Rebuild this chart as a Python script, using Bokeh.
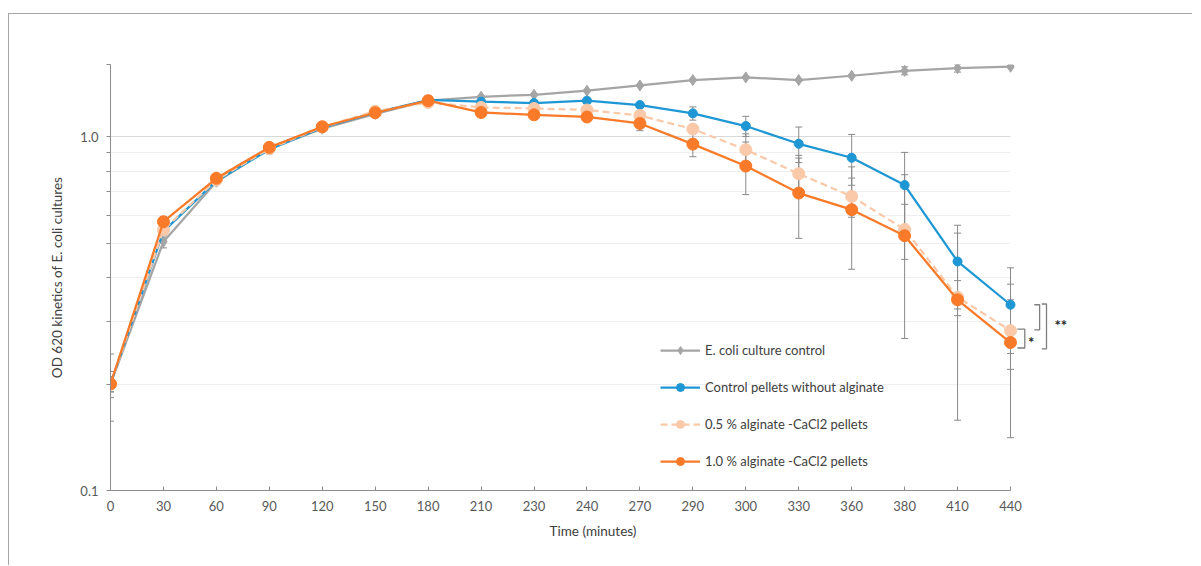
import numpy as np
from bokeh.plotting import figure
from bokeh.models import (Range1d, FixedTicker, CustomJSTickFormatter, Legend, LegendItem,
                          ColumnDataSource, Whisker, TeeHead)
from bokeh.embed import file_html
from bokeh.resources import INLINE
from bokeh.core.properties import value

# ---------------- data ----------------
times = ["0", "30", "60", "90", "120", "150", "180", "210", "230", "240",
         "270", "290", "300", "330", "360", "380", "410", "440"]

ecoli_control = [0.200, 0.505, 0.746, 0.925, 1.053, 1.160, 1.264, 1.297, 1.314, 1.349,
                 1.396, 1.446, 1.471, 1.446, 1.487, 1.536, 1.563, 1.577]
ecoli_err = [0.043, 0.020, 0.010, 0.030, 0.010, 0.010, 0.040, 0.010, 0.010, 0.010,
             0.010, 0.010, 0.010, 0.010, 0.010, 0.040, 0.040, 0.010]

pellets_control = [0.200, 0.540, 0.750, 0.920, 1.060, 1.170, 1.270, 1.256, 1.245, 1.264,
                   1.229, 1.164, 1.072, 0.955, 0.872, 0.730, 0.444, 0.335]
pellets_err = [0.017, 0.020, 0.010, 0.010, 0.010, 0.010, 0.010, 0.010, 0.010, 0.010,
               0.010, 0.050, 0.070, 0.110, 0.143, 0.173, 0.118, 0.091]

alg05 = [0.200, 0.545, 0.755, 0.925, 1.065, 1.180, 1.250, 1.210, 1.202, 1.190,
         1.148, 1.051, 0.919, 0.786, 0.678, 0.547, 0.352, 0.283]
alg05_err = [0.010, 0.030, 0.010, 0.010, 0.010, 0.010, 0.010, 0.010, 0.020, 0.020,
             0.020, 0.030, 0.100, 0.100, 0.086, 0.097, 0.040, 0.063]

alg10 = [0.200, 0.575, 0.763, 0.933, 1.067, 1.169, 1.264, 1.171, 1.153, 1.137,
         1.090, 0.953, 0.826, 0.693, 0.622, 0.525, 0.346, 0.262]
alg10_err = [0.010, 0.020, 0.010, 0.010, 0.010, 0.010, 0.010, 0.010, 0.010, 0.010,
             0.050, 0.075, 0.140, 0.177, 0.200, 0.256, 0.188, 0.121]

labels = ["E. coli culture control", "Control pellets without alginate",
          "0.5 % alginate -CaCl2 pellets", "1.0 % alginate -CaCl2 pellets"]

# ---------------- styling ----------------
FONT = "Lato"
C_GRAY = "#a5a5a5"
C_BLUE = "#1f97d5"
C_PEACH = "#f9c9a9"
C_ORANGE = "#f97a28"
C_ERR = "#8a8a8a"
C_AXIS = "#8c8c8c"
C_TEXT = "#404040"

x = list(range(len(times)))
n_last = len(times) - 1
x_end = (1075 - 110) / ((1010 - 110) / n_last)

p = figure(width=1184, height=552, y_axis_type="log",
           x_range=Range1d(0, x_end), y_range=Range1d(0.1, 1.6),
           output_backend="svg", toolbar_location=None,
           min_border_left=101, min_border_right=118,
           min_border_top=50, min_border_bottom=76)
p.styles = {"margin-top": "13px", "margin-left": "8px",
            "border-top": "1px solid #a6a6a6",
            "border-left": "1px solid #a6a6a6"}
p.outline_line_color = None
p.background_fill_color = "white"

# x axis
p.xaxis.ticker = FixedTicker(ticks=x)
p.xaxis.major_label_overrides = {i: t for i, t in enumerate(times)}
p.xaxis.bounds = (0, n_last)
p.xaxis.major_tick_in = 4
p.xaxis.major_tick_out = 0
p.xaxis.minor_tick_line_color = None
p.xaxis.axis_line_color = C_AXIS
p.xaxis.major_tick_line_color = C_AXIS
p.xaxis.major_label_standoff = 10
p.xaxis.axis_label = "Time (minutes)"
p.xaxis.axis_label_standoff = 9
p.xgrid.visible = False

# y axis
p.yaxis.ticker = FixedTicker(ticks=[0.1, 1.0],
                             minor_ticks=[0.2, 0.3, 0.4, 0.5, 0.6, 0.7, 0.8, 0.9, 1.6])
p.yaxis.formatter = CustomJSTickFormatter(code="return tick < 0.5 ? '0.1' : '1.0';")
p.yaxis.major_tick_out = 4
p.yaxis.major_tick_in = 0
p.yaxis.minor_tick_out = 4
p.yaxis.minor_tick_in = 0
p.yaxis.axis_line_color = C_AXIS
p.yaxis.major_tick_line_color = C_AXIS
p.yaxis.minor_tick_line_color = C_AXIS
p.yaxis.major_label_standoff = 8
p.yaxis.axis_label = "OD 620 kinetics of E. coli cultures"
p.yaxis.axis_label_standoff = 12
p.ygrid.grid_line_color = "#d9d9d9"
p.ygrid.minor_grid_line_color = "#efefef"
p.ygrid.cross_bounds = (0, n_last)

for ax in (p.xaxis, p.yaxis):
    ax.major_label_text_font = FONT
    ax.major_label_text_font_size = "13px"
    ax.major_label_text_color = "#595959"
    ax.axis_label_text_font = FONT
    ax.axis_label_text_font_size = "13.5px"
    ax.axis_label_text_font_style = "normal"
    ax.axis_label_text_color = C_TEXT

# ---------------- series ----------------
series = [
    (ecoli_control, ecoli_err, C_GRAY, None, "diamond", 11),
    (pellets_control, pellets_err, C_BLUE, None, "circle", 9),
    (alg05, alg05_err, C_PEACH, "7 4", "circle", 12),
    (alg10, alg10_err, C_ORANGE, None, "circle", 12),
]

items = []
for (vals, err, col, dash, mk, sz), lab in zip(series, labels):
    src = ColumnDataSource(dict(x=x, y=vals,
                                upper=[v + e for v, e in zip(vals, err)],
                                lower=[v - e for v, e in zip(vals, err)]))
    w = Whisker(source=src, base="x", upper="upper", lower="lower",
                line_color=C_ERR, line_width=1,
                upper_head=TeeHead(size=7, line_color=C_ERR, line_width=1),
                lower_head=TeeHead(size=7, line_color=C_ERR, line_width=1))
    p.add_layout(w)
    lr = p.line("x", "y", source=src, line_color=col, line_width=2.25,
                line_dash=dash if dash else "solid")
    sr = p.scatter("x", "y", source=src, marker=mk, size=sz,
                   fill_color=col, line_color=col)
    items.append(LegendItem(label=lab, renderers=[lr, sr]))

legend = Legend(items=items, location=(550, 19), padding=0, spacing=17,
                label_height=20, glyph_height=20, glyph_width=40, label_standoff=5,
                label_text_font=FONT, label_text_font_size="13px",
                label_text_color=C_TEXT, border_line_color=None,
                background_fill_alpha=0)
p.add_layout(legend)

# ---------------- significance brackets ----------------
b_blue, b_peach, b_orange = pellets_control[-1], alg05[-1], alg10[-1]
br_xs = [[17.45, 17.55, 17.55, 17.45],
         [17.13, 17.27, 17.27, 17.13],
         [17.59, 17.68, 17.68, 17.59]]
br_ys = [[b_blue, b_blue, b_peach * 1.005, b_peach * 1.005],
         [b_peach * 1.01, b_peach * 1.01, b_orange * 0.965, b_orange * 0.965],
         [b_blue * 1.005, b_blue * 1.005, b_orange * 0.96, b_orange * 0.96]]
p.multi_line(br_xs, br_ys, line_color="#7f7f7f", line_width=1.3)
p.text(x=[17.33, 17.83],
       y=[(b_peach * b_orange * 0.965) ** 0.5 * 0.985, (b_blue * b_orange * 0.96) ** 0.5 * 1.01],
       text=["*", "**"], text_font=value(FONT), text_font_size="15px",
       text_color="#262626", text_baseline="middle", text_align="left",
       text_font_style="bold")

open("out.html", "w").write(file_html(p, INLINE))
